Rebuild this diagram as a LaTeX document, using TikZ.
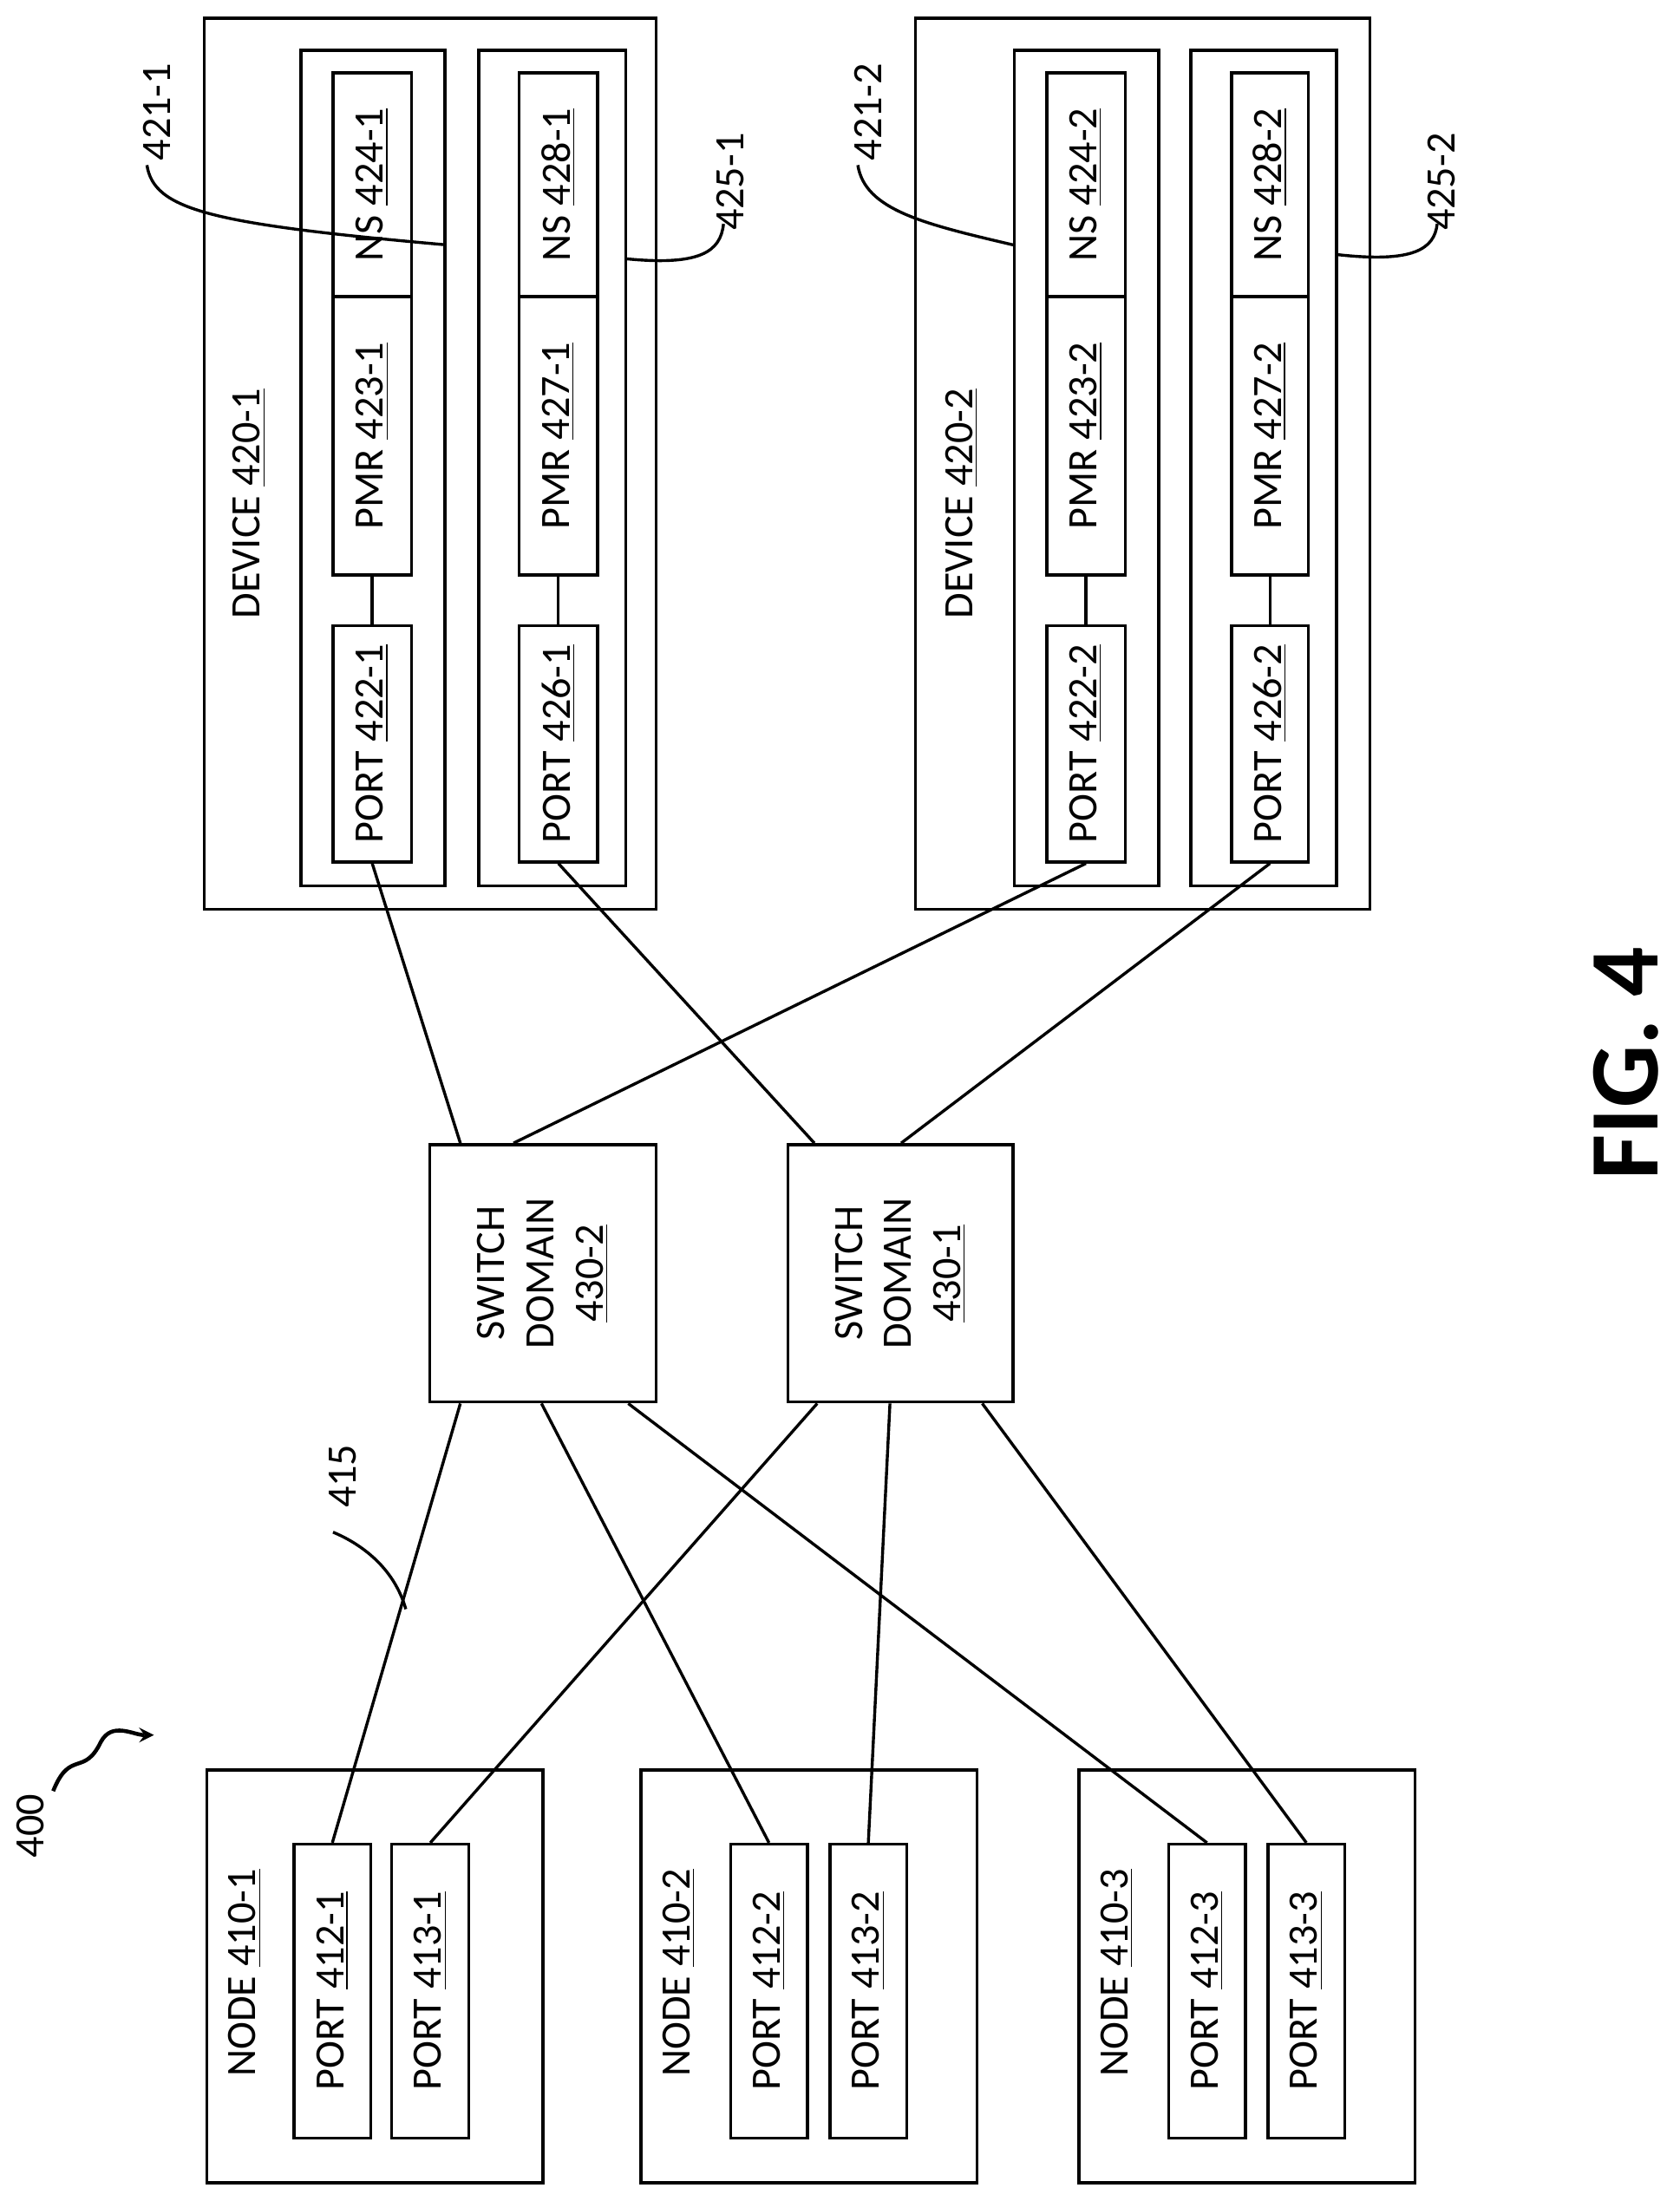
\documentclass[tikz,border=0pt]{standalone}
\usepackage{fontspec}
\setmainfont{Carlito}
\usetikzlibrary{positioning}
\tikzset{
  box/.style={draw, line width=1.2pt, rectangle, inner sep=0pt},
  txt/.style={rotate=90, font=\fontsize{17}{20}\selectfont, align=center, inner sep=0pt},
  wire/.style={line width=1.2pt},
}
\newcommand{\bx}[5]{\node[box, minimum width={(#4-#2)*0.02cm}, minimum height={(#5-#3)*0.02cm}] (#1) at ({(#2+#4)/2},{(#3+#5)/2}) {};}
\begin{document}
\begin{tikzpicture}[x=0.02cm, y=-0.02cm]
    \useasboundingbox (0,0) rectangle (1200,1573);

    % devices
    \bx{dev1}{146}{13}{469}{650}
    \bx{in1}{215}{36}{318}{633}
    \bx{in2}{342}{36}{447}{633}
    \bx{dev2}{654}{13}{979}{650}
    \bx{in3}{725}{36}{828}{633}
    \bx{in4}{851}{36}{955}{633}
    \node[txt] (dl1) at (178,360) {DEVICE \underline{420-1}};
    \node[txt] (dl2) at (687,360) {DEVICE \underline{420-2}};

    \foreach \nm/\xa/\xb/\pa/\pb/\pc in {a/238/294/424-1/423-1/422-1, b/371/427/428-1/427-1/426-1,
                                        c/748/804/424-2/423-2/422-2, d/880/935/428-2/427-2/426-2} {
      \bx{ns\nm}{\xa}{52}{\xb}{212}
      \bx{pmr\nm}{\xa}{212}{\xb}{411}
      \bx{port\nm}{\xa}{447}{\xb}{616}
      \node[txt] at (ns\nm) {NS \underline{\pa}};
      \node[txt] at (pmr\nm) {PMR \underline{\pb}};
      \node[txt] at (port\nm) {PORT \underline{\pc}};
      \draw[wire] (pmr\nm.south) -- (port\nm.north);
    }

    % reference labels
    \node[txt] (r1) at (112,80) {421-1};
    \node[txt] (r2) at (522,130) {425-1};
    \node[txt] (r3) at (620,80) {421-2};
    \node[txt] (r4) at (1030,130) {425-2};
    \draw[wire] (in1.east |- 0,175) .. controls (150,160) and (110,150) .. (105,118);
    \draw[wire] (in2.east |- 0,185) .. controls (500,190) and (515,180) .. (517,160);
    \draw[wire] (in3.west |- 0,175) .. controls (660,160) and (618,150) .. (613,118);
    \draw[wire] (in4.east |- 0,182) .. controls (1010,188) and (1025,178) .. (1027,160);

    % switches
    \bx{sw2}{307}{818}{469}{1002}
    \bx{sw1}{563}{818}{724}{1002}
    \node[txt] at (sw2) {SWITCH\\DOMAIN\\\underline{430-2}};
    \node[txt] at (sw1) {SWITCH\\DOMAIN\\\underline{430-1}};

    % nodes
    \foreach \k/\xa/\xb/\xc in {1/148/210/280, 2/458/522/593, 3/771/835/906} {
      \bx{node\k}{\xa}{1265}{\xa+240}{1560}
      \bx{pa\k}{\xb}{1318}{\xb+55}{1528}
      \bx{pb\k}{\xc}{1318}{\xc+55}{1528}
      \node[txt] at ({\xa+27},1410) {NODE \underline{410-\k}};
      \node[txt] at (pa\k) {PORT \underline{412-\k}};
      \node[txt] at (pb\k) {PORT \underline{413-\k}};
    }

    % links
    \draw[wire] (porta.south) -- ([xshift=23*0.02cm]sw2.north west);
    \draw[wire] (portc.south) -- ([xshift=61*0.02cm]sw2.north west);
    \draw[wire] (portb.south) -- ([xshift=20*0.02cm]sw1.north west);
    \draw[wire] (portd.south) -- ([xshift=82*0.02cm]sw1.north west);
    \draw[wire] ([xshift=23*0.02cm]sw2.south west) -- (pa1.north);
    \draw[wire] ([xshift=81*0.02cm]sw2.south west) -- (pa2.north);
    \draw[wire] ([xshift=143*0.02cm]sw2.south west) -- (pa3.north);
    \draw[wire] ([xshift=22*0.02cm]sw1.south west) -- (pb1.north);
    \draw[wire] ([xshift=74*0.02cm]sw1.south west) -- (pb2.north);
    \draw[wire] ([xshift=140*0.02cm]sw1.south west) -- (pb3.north);

    % 415 and 400
    \node[txt] (l415) at (245,1055) {415};
    \coordinate (c415) at (290,1150);
    \draw[wire] (c415) .. controls (280,1115) and (250,1100) .. (238,1095);
    \node[txt] (l400) at (22,1305) {400};
    \draw[line width=1.6pt, ->, >=stealth] (38,1280) .. controls (50,1250) and (60,1270) .. (72,1245) .. controls (80,1230) and (95,1240) .. (110,1240);

    \node[rotate=90, font=\fontsize{40}{44}\selectfont\bfseries] (fig) at (1162,760) {FIG. 4};
\end{tikzpicture}
\end{document}
